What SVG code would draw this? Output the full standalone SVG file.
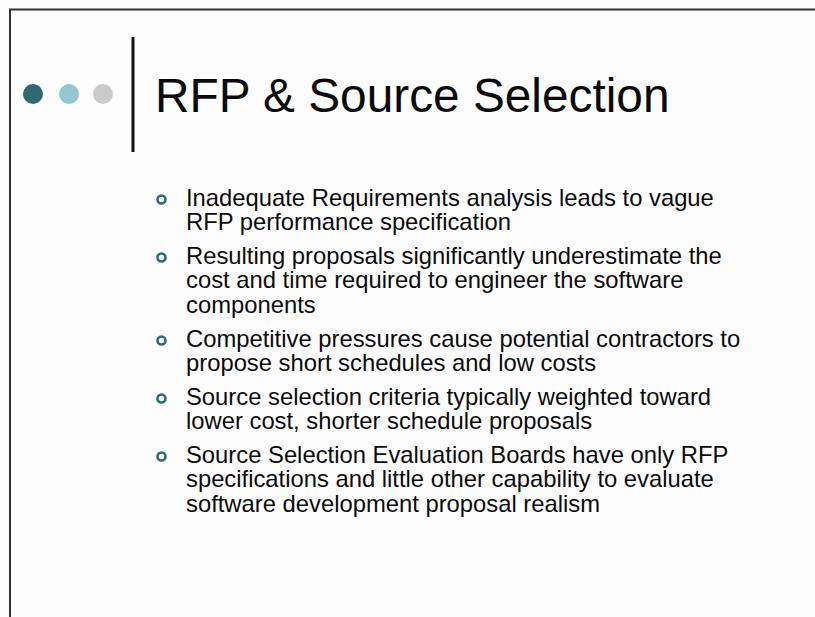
<svg xmlns="http://www.w3.org/2000/svg" width="815" height="617" viewBox="0 0 815 617">
<style>
.t{font-family:"Liberation Sans",Arial,sans-serif;fill:#0a0a0a;}
.title{font-size:47.8px;}
.b{font-size:23.8px;}
.bul{fill:none;stroke:#2f6b70;stroke-width:2.6;}
</style>
<rect x="0" y="0" width="815" height="617" fill="#fdfdfd"/>
<path d="M10,617 V9.5 H815" fill="none" stroke="#333" stroke-width="2"/>
<g id="dots">
<circle cx="33" cy="94" r="10" fill="#2f6a6f"/>
<circle cx="69" cy="94" r="10" fill="#93c8ce"/>
<circle cx="103" cy="94" r="10" fill="#cbcbcb"/>
</g>
<line x1="133" y1="37" x2="133" y2="152" stroke="#111" stroke-width="3"/>
<text class="t title" x="155" y="112">RFP &amp; Source Selection</text>
<g id="bullets">
<circle class="bul" cx="161.5" cy="199.5" r="4"/>
<circle class="bul" cx="161.5" cy="257.5" r="4"/>
<circle class="bul" cx="161.5" cy="340.5" r="4"/>
<circle class="bul" cx="161.5" cy="398.5" r="4"/>
<circle class="bul" cx="161.5" cy="456.5" r="4"/>
</g>
<g id="text" class="t b">
<text x="186" y="206">Inadequate Requirements analysis leads to vague<tspan x="186" y="230">RFP performance specification</tspan></text>
<text x="186" y="264">Resulting proposals significantly underestimate the<tspan x="186" y="288">cost and time required to engineer the software</tspan><tspan x="186" y="313">components</tspan></text>
<text x="186" y="347">Competitive pressures cause potential contractors to<tspan x="186" y="371">propose short schedules and low costs</tspan></text>
<text x="186" y="405">Source selection criteria typically weighted toward<tspan x="186" y="429">lower cost, shorter schedule proposals</tspan></text>
<text x="186" y="463">Source Selection Evaluation Boards have only RFP<tspan x="186" y="487">specifications and little other capability to evaluate</tspan><tspan x="186" y="512">software development proposal realism</tspan></text>
</g>
</svg>
